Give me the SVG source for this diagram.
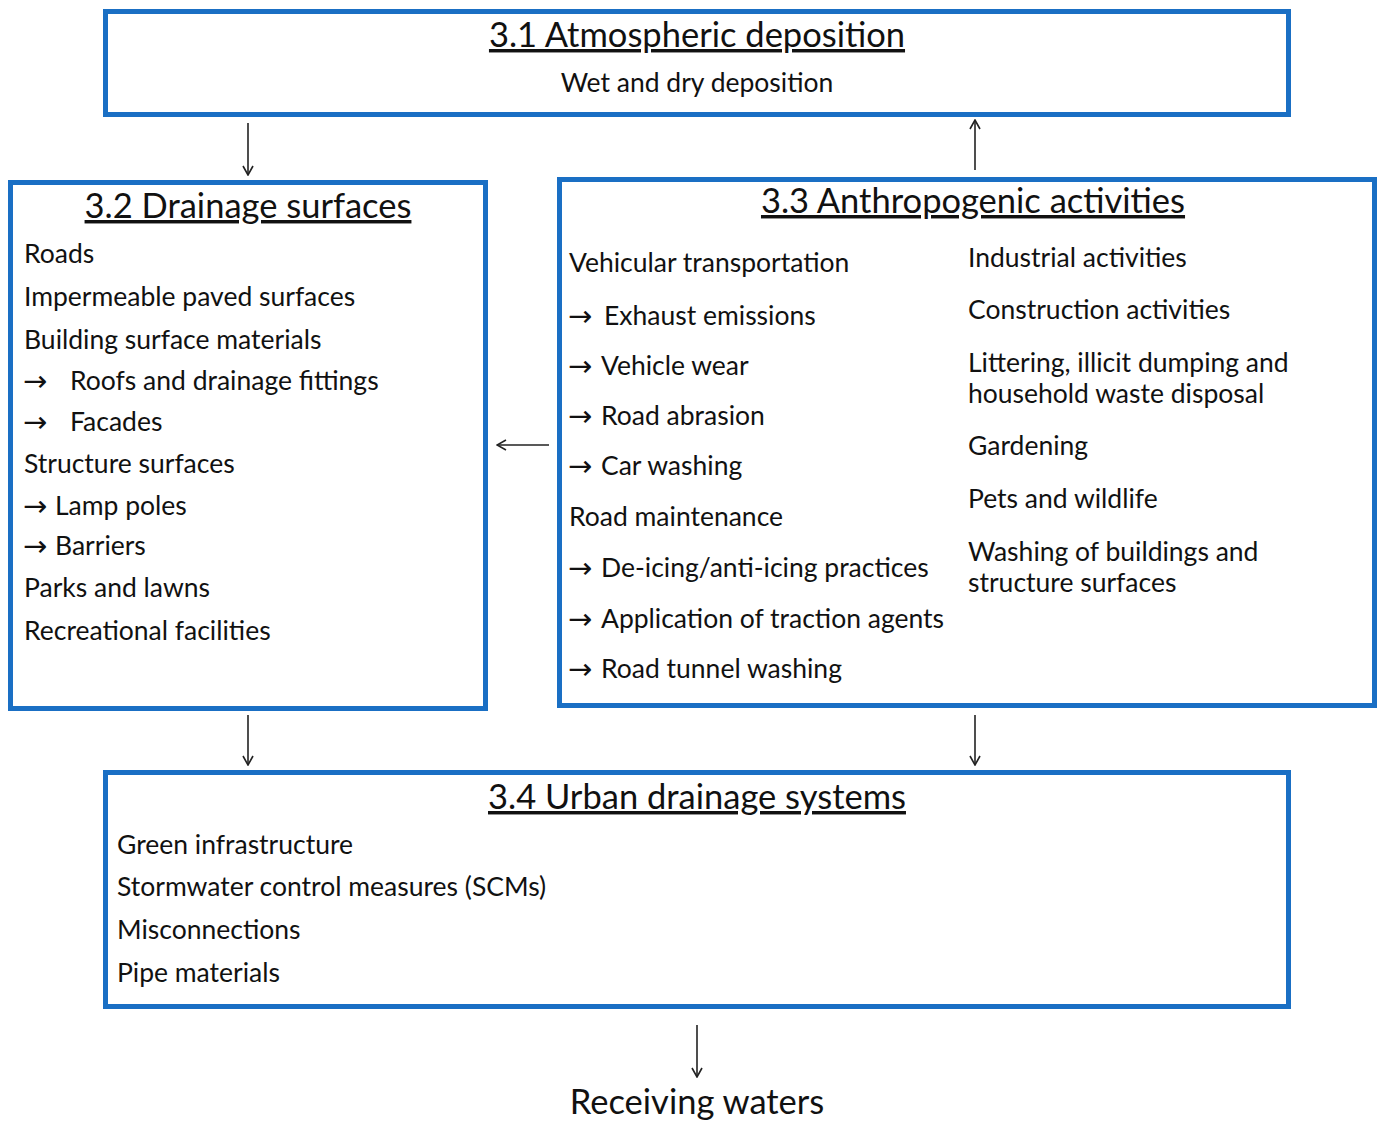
<svg xmlns="http://www.w3.org/2000/svg" width="1378" height="1123" viewBox="0 0 1378 1123">
<defs>
<style>
.box{fill:#fff;stroke:#1a6fc4;stroke-width:5}
text{font-family:Lato,"Open Sans","Liberation Sans",sans-serif;fill:#111}
.t{font-size:34.5px;text-decoration:underline;text-anchor:middle}
.b{font-size:26.5px}
.ar{font-family:"DejaVu Sans",sans-serif;font-size:29px}
.c{stroke:#222;stroke-width:1.6;fill:none;marker-end:url(#m)}
</style>
<marker id="m" viewBox="0 0 12 12" refX="11" refY="6" markerWidth="12" markerHeight="12" markerUnits="userSpaceOnUse" orient="auto">
<polyline points="2,1 11,6 2,11" fill="none" stroke="#222" stroke-width="1.6"/>
</marker>
</defs>
<rect width="1378" height="1123" fill="#fff"/>
<g id="connectors">
<line class="c" x1="248" y1="123" x2="248" y2="175"/>
<line class="c" x1="975" y1="170" x2="975" y2="120"/>
<line class="c" x1="549" y1="445" x2="497" y2="445"/>
<line class="c" x1="248" y1="715" x2="248" y2="765"/>
<line class="c" x1="975" y1="715" x2="975" y2="765"/>
<line class="c" x1="697" y1="1025" x2="697" y2="1077"/>
</g>
<g id="n31">
<rect class="box" x="105.5" y="11.5" width="1183" height="103"/>
<text class="t" x="697" y="47">3.1 Atmospheric deposition</text>
<text class="b" x="697" y="92" text-anchor="middle">Wet and dry deposition</text>
</g>
<g id="n32">
<rect class="box" x="10.5" y="182.5" width="475" height="526"/>
<text class="t" x="248" y="218">3.2 Drainage surfaces</text>
<text class="b" x="24" y="263">Roads</text>
<text class="b" x="24" y="306">Impermeable paved surfaces</text>
<text class="b" x="24" y="349">Building surface materials</text>
<text class="ar" x="23" y="391">→</text><text class="b" x="70" y="390">Roofs and drainage fittings</text>
<text class="ar" x="23" y="432">→</text><text class="b" x="70" y="431">Facades</text>
<text class="b" x="24" y="473">Structure surfaces</text>
<text class="ar" x="23" y="516">→</text><text class="b" x="55" y="515">Lamp poles</text>
<text class="ar" x="23" y="556">→</text><text class="b" x="55" y="555">Barriers</text>
<text class="b" x="24" y="597">Parks and lawns</text>
<text class="b" x="24" y="640">Recreational facilities</text>
</g>
<g id="n33">
<rect class="box" x="559.5" y="179.5" width="815" height="526"/>
<text class="t" x="973" y="213">3.3 Anthropogenic activities</text>
<text class="b" x="569" y="272">Vehicular transportation</text>
<text class="ar" x="568" y="326">→</text><text class="b" x="604" y="325">Exhaust emissions</text>
<text class="ar" x="568" y="376">→</text><text class="b" x="601" y="375">Vehicle wear</text>
<text class="ar" x="568" y="426">→</text><text class="b" x="601" y="425">Road abrasion</text>
<text class="ar" x="568" y="476">→</text><text class="b" x="601" y="475">Car washing</text>
<text class="b" x="569" y="526">Road maintenance</text>
<text class="ar" x="568" y="578">→</text><text class="b" x="601" y="577">De-icing/anti-icing practices</text>
<text class="ar" x="568" y="629">→</text><text class="b" x="601" y="628">Application of traction agents</text>
<text class="ar" x="568" y="679">→</text><text class="b" x="601" y="678">Road tunnel washing</text>
<text class="b" x="968" y="267">Industrial activities</text>
<text class="b" x="968" y="319">Construction activities</text>
<text class="b" x="968" y="372">Littering, illicit dumping and</text>
<text class="b" x="968" y="403">household waste disposal</text>
<text class="b" x="968" y="455">Gardening</text>
<text class="b" x="968" y="508">Pets and wildlife</text>
<text class="b" x="968" y="561">Washing of buildings and</text>
<text class="b" x="968" y="592">structure surfaces</text>
</g>
<g id="n34">
<rect class="box" x="105.5" y="772.5" width="1183" height="234"/>
<text class="t" x="697" y="809">3.4 Urban drainage systems</text>
<text class="b" x="117" y="854">Green infrastructure</text>
<text class="b" x="117" y="896">Stormwater control measures (SCMs)</text>
<text class="b" x="117" y="939">Misconnections</text>
<text class="b" x="117" y="982">Pipe materials</text>
</g>
<g id="receiving">
<text x="697" y="1114" text-anchor="middle" style="font-size:34.5px">Receiving waters</text>
</g>
</svg>
